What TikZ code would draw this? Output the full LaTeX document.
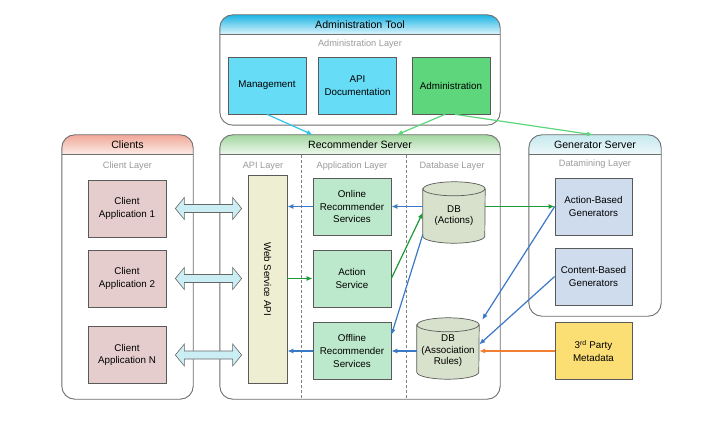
\documentclass[tikz,border=0pt]{standalone}
\usepackage{fontspec}
\setmainfont{Liberation Sans}
\usetikzlibrary{arrows.meta,calc}

\definecolor{boxline}{HTML}{5A5A5A}
\definecolor{contline}{HTML}{6E6E6E}
\definecolor{laygray}{HTML}{9A9A9A}
\definecolor{cyanbox}{HTML}{66DCF6}
\definecolor{greenbox}{HTML}{5DD67C}
\definecolor{clientbox}{HTML}{E5CDCD}
\definecolor{apibox}{HTML}{EEEED2}
\definecolor{appbox}{HTML}{BCE9CB}
\definecolor{dbfill}{HTML}{D8E1CB}
\definecolor{genbox}{HTML}{CEDCEE}
\definecolor{thirdbox}{HTML}{FBDE74}
\definecolor{fatfill}{HTML}{CBEEF5}
\definecolor{blueline}{HTML}{3B78C6}
\definecolor{dgreenline}{HTML}{1E9A38}
\definecolor{lgreenline}{HTML}{5DD67C}
\definecolor{cyanline}{HTML}{2CC4EC}
\definecolor{orangeline}{HTML}{F07F34}
\definecolor{admtop}{HTML}{1CB4E4}
\definecolor{admbot}{HTML}{E2F6FC}
\definecolor{clitop}{HTML}{F0A898}
\definecolor{clibot}{HTML}{FCEDE8}
\definecolor{rectop}{HTML}{A3D7A0}
\definecolor{recbot}{HTML}{EFF8EE}
\definecolor{gentop}{HTML}{C6E9EE}
\definecolor{genbot}{HTML}{EDF8FA}

\tikzset{
  box/.style={draw=boxline, line width=0.7pt, minimum width=78pt, minimum height=57pt,
    align=center, inner sep=1pt, font=\fontsize{9.8}{12.6}\selectfont},
  cont/.style={draw=contline, line width=0.9pt, rounded corners=13pt},
  lay/.style={text=laygray, font=\fontsize{9.2}{11}\selectfont},
  ttl/.style={font=\fontsize{10.6}{12}\selectfont},
  conn/.style={line width=1.2pt, -{Latex[length=6pt,width=5pt]}},
  fat/.style={draw=gray!80!black, line width=0.6pt, fill=fatfill},
  dbtext/.style={align=center, font=\fontsize{9.8}{11.5}\selectfont},
  cylbox/.style={minimum width=62pt, minimum height=61pt, inner sep=0pt},
}

% container: name, cx, cy, width, height, header top colour, header bottom colour
\newcommand\panel[7]{%
  \node[minimum width=#4pt, minimum height=#5pt, inner sep=0pt] (#1) at (#2,#3) {};
  \begin{scope}
    \clip[rounded corners=13pt] (#1.south west) rectangle (#1.north east);
    \shade[top color=#6, bottom color=#7] ([yshift=-20pt]#1.north west) rectangle (#1.north east);
  \end{scope}
  \draw[contline, line width=0.9pt] ([yshift=-20pt]#1.north west) -- ([yshift=-20pt]#1.north east);
  \draw[cont] (#1.south west) rectangle (#1.north east);
}

% database cylinder around a named node
\newcommand\dbcyl[1]{%
  \draw[fill=dbfill, draw=boxline, line width=0.7pt]
    ([yshift=-7pt]#1.north west) -- ([yshift=7pt]#1.south west)
    arc[start angle=180, end angle=360, x radius=31pt, y radius=7pt]
    -- ([yshift=-7pt]#1.north east)
    arc[start angle=0, end angle=180, x radius=31pt, y radius=7pt] -- cycle;
  \draw[draw=boxline, line width=0.7pt] ([yshift=-7pt]#1.north west)
    arc[start angle=180, end angle=360, x radius=31pt, y radius=7pt];
}

% wide two-headed arrow between two named anchors on one row
\newcommand\fatarrow[2]{%
  \draw[fat] let \p1=(#1), \p2=(#2) in
    (\x1,\y1) -- (\x1+9pt,\y1+11pt) -- (\x1+9pt,\y1+4pt) -- (\x2-9pt,\y1+4pt)
    -- (\x2-9pt,\y1+11pt) -- (\x2,\y1) -- (\x2-9pt,\y1-11pt) -- (\x2-9pt,\y1-4pt)
    -- (\x1+9pt,\y1-4pt) -- (\x1+9pt,\y1-11pt) -- cycle;
}

\begin{document}
\begin{tikzpicture}[x=1pt, y=1pt]
\useasboundingbox (0,0) rectangle (725,421);
\fill[white] (0,0) rectangle (725,421);

% containers
\panel{admin}{360}{351}{280}{110}{admtop}{admbot}
\panel{clients}{127.5}{154}{131}{264}{clitop}{clibot}
\panel{rec}{360}{154}{280}{264}{rectop}{recbot}
\panel{gen}{595}{195.5}{132}{181}{gentop}{genbot}

% titles and layer labels
\node[ttl] (adminT) at ([yshift=-10pt]admin.north) {Administration Tool};
\node[lay] (adminL) at ([yshift=-29pt]admin.north) {Administration Layer};
\node[ttl] (clientsT) at ([yshift=-10pt]clients.north) {Clients};
\node[lay] (clientsL) at ([yshift=-31pt]clients.north) {Client Layer};
\node[ttl] (recT) at ([yshift=-10pt]rec.north) {Recommender Server};
\node[lay] (apiL) at (263,255) {API Layer};
\node[lay] (appL) at (352,255) {Application Layer};
\node[lay] (dbL) at (452,255) {Database Layer};
\node[ttl] (genT) at ([yshift=-10pt]gen.north) {Generator Server};
\node[lay] (genL) at ([yshift=-29pt]gen.north) {Datamining Layer};

% layer separators
\draw[gray, line width=0.7pt, dash pattern=on 3pt off 2pt] (301,266) -- (301,22);
\draw[gray, line width=0.7pt, dash pattern=on 3pt off 2pt] (406,266) -- (406,22);

% administration boxes
\node[box, fill=cyanbox] (mgmt) at (267,335.5) {Management};
\node[box, fill=cyanbox] (apidoc) at (357.5,335.5) {API\\Documentation};
\node[box, fill=greenbox] (adm) at (451,335.5) {Administration};

% client boxes
\node[box, fill=clientbox] (ca1) at (127,212.5) {Client\\Application 1};
\node[box, fill=clientbox] (ca2) at (127,142.5) {Client\\Application 2};
\node[box, fill=clientbox] (caN) at (127,66) {Client\\Application N};

% API layer
\node[box, fill=apibox, minimum width=39pt, minimum height=208pt] (ws) at (267.5,142) {};
\node[rotate=-90, inner sep=0pt, font=\fontsize{9.8}{11}\selectfont] (wsT) at (ws.center) {Web~Service~API};

% application layer
\node[box, fill=appbox] (on) at (352,214.5) {Online\\Recommender\\Services};
\node[box, fill=appbox] (act) at (352,142.5) {Action\\Service};
\node[box, fill=appbox] (off) at (352,70) {Offline\\Recommender\\Services};

% database layer
\node[cylbox] (dbA) at (454,208.5) {};
\dbcyl{dbA}
\node[dbtext] (dbAT) at ([yshift=-3pt]dbA.center) {DB\\(Actions)};
\node[cylbox] (dbR) at (448,72.5) {};
\dbcyl{dbR}
\node[dbtext] (dbRT) at ([yshift=-2.5pt]dbR.center) {DB\\(Association\\Rules)};

% generators and metadata
\node[box, fill=genbox, minimum width=77pt] (abg) at (593.5,214.5) {Action-Based\\Generators};
\node[box, fill=genbox, minimum width=77pt] (cbg) at (593.5,144.5) {Content-Based\\Generators};
\node[box, fill=thirdbox, minimum width=77pt] (tp) at (593.5,70) {3\textsuperscript{rd} Party\\Metadata};

% client <-> API arrows
\fatarrow{[xshift=9pt]ca1.east}{[xshift=-6pt]ws.west|-ca1.east}
\fatarrow{[xshift=9pt]ca2.east}{[xshift=-6pt]ws.west|-ca2.east}
\fatarrow{[xshift=9pt]caN.east}{[xshift=-6pt]ws.west|-caN.east}

% administration links
\draw[conn, cyanline] (mgmt.south) -- ([xshift=93pt]rec.north west);
\draw[conn, lgreenline] ([xshift=-6pt]adm.south) -- ([xshift=177pt]rec.north west);
\draw[conn, lgreenline] ([xshift=4pt]adm.south) -- ([xshift=-2pt]gen.north);

% recommender server flows
\draw[conn, blueline] (on.west) -- (on.west -| ws.east);
\draw[conn, blueline] (dbA.west |- on.east) -- (on.east);
\draw[conn, dgreenline] (ws.east |- act.west) -- (act.west);
\draw[conn, dgreenline] (act.east) -- (dbA.west);
\draw[conn, blueline] ([yshift=-22pt]dbA.west) -- ([yshift=16pt]off.east);
\draw[conn, blueline] (dbR.west |- off.east) -- (off.east);
\draw[conn, blueline] (off.west) -- (off.west -| ws.east);

% generator flows
\draw[conn, dgreenline] (dbA.east |- abg.west) -- (abg.west);
\draw[conn, blueline] (abg.west) -- ([xshift=3pt, yshift=-2pt]dbR.north east);
\draw[conn, blueline] (cbg.west) -- ([yshift=4pt]dbR.east);
\draw[conn, orangeline] (tp.west) -- (tp.west -| dbR.east);

\end{tikzpicture}
\end{document}
